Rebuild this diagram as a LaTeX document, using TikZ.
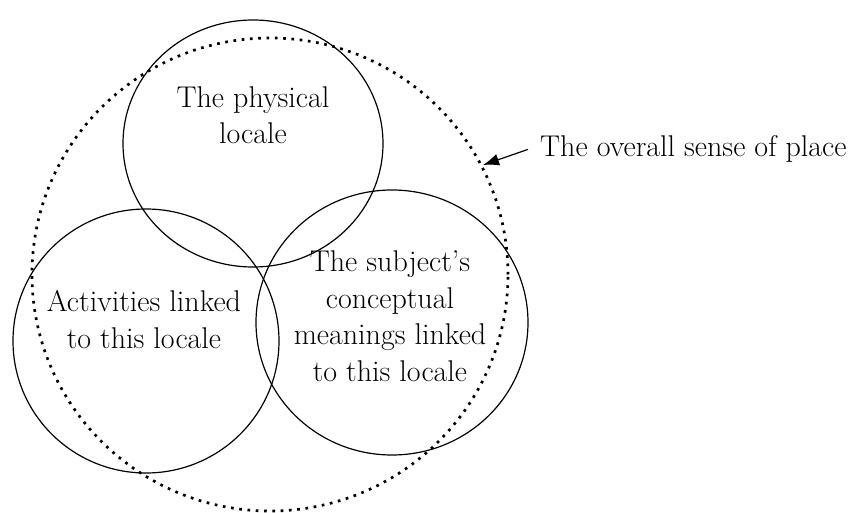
\documentclass[tikz,border=0pt]{standalone}
\usetikzlibrary{shapes.geometric,arrows.meta}
\begin{document}
\begin{tikzpicture}[x=1pt,y=-1pt,
  ring/.style={draw=black, line width=1.2pt, ellipse, inner sep=0pt},
  dotring/.style={draw=black, line width=2.7pt, dash pattern=on 2.7pt off 5.6pt, ellipse, inner sep=0pt},
  label/.style={align=center, inner sep=0pt, font=\fontsize{30}{36.5}\selectfont},
  pointer/.style={line width=1.2pt, -{Latex[length=16pt,width=12pt]}}]
  \useasboundingbox (0,0) rectangle (852,513);

  % overall sense of place (dotted)
  \node[dotring, minimum width=476pt, minimum height=473pt] (place) at (270,274.5) {};

  % the three overlapping circles
  \node[ring, minimum width=260pt, minimum height=247pt] (physical) at (253,143.5) {};
  \node[ring, minimum width=266pt, minimum height=264pt] (activities) at (146,341) {};
  \node[ring, minimum width=272pt, minimum height=265pt] (meanings) at (392,322.5) {};

  % circle texts
  \node[label] (physicaltext) at (253,115) {The physical\\locale};
  \node[label] (activitiestext) at (144,319.5) {Activities linked\\to this locale};
  \node[label] (meaningstext) at (390,316) {The subject's\\conceptual\\meanings linked\\to this locale};

  % label with pointer to the dotted outline
  \node[label, anchor=base west, inner xsep=12pt] (overall) at (528,157) {The overall sense of place};
  \coordinate (tip) at (483,165);
  \draw[pointer] (overall.west) -- (tip);
\end{tikzpicture}
\end{document}
